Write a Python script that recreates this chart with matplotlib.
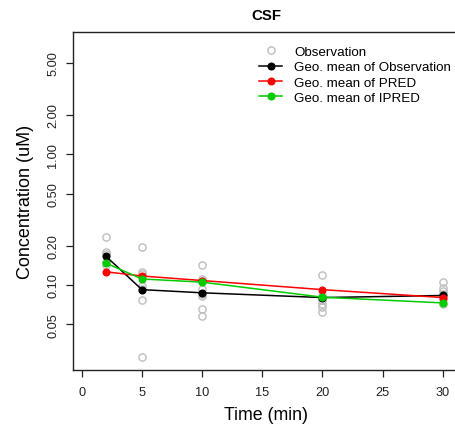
import matplotlib
matplotlib.use("Agg")
import matplotlib.pyplot as plt
from matplotlib.ticker import FixedLocator, NullLocator

plt.rcParams['font.family'] = ['Liberation Sans', 'DejaVu Sans']

# Observations (time in min, concentration in uM)
obs_t2 = [0.232, 0.178, 0.172, 0.150, 0.141]
obs_t5 = [0.196, 0.126, 0.121, 0.098, 0.093, 0.077, 0.028]
obs_t10 = [0.143, 0.111, 0.107, 0.093, 0.085, 0.082, 0.065, 0.058]
obs_t20 = [0.119, 0.084, 0.076, 0.071, 0.068, 0.062]
obs_t30 = [0.106, 0.095, 0.090, 0.085, 0.078, 0.072]
obs_by_time = {2: obs_t2, 5: obs_t5, 10: obs_t10, 20: obs_t20, 30: obs_t30}

times = [2, 5, 10, 20, 30]
geo_obs = [0.166, 0.092, 0.087, 0.0800, 0.0830]
geo_pred = [0.126, 0.117, 0.108, 0.092, 0.080]
geo_ipred = [0.147, 0.111, 0.105, 0.0805, 0.0728]

yticks = [0.05, 0.10, 0.20, 0.50, 1.00, 2.00, 5.00]
ytick_labels = ["0.05", "0.10", "0.20", "0.50", "1.00", "2.00", "5.00"]
xticks = [0, 5, 10, 15, 20, 25, 30]

W, H = 455, 435
fig = plt.figure(figsize=(W / 100, H / 100), dpi=100)
left, right, bottom, top = 73.3, 458.5, 371.0, 33.3
ax = fig.add_axes([left / W, (H - bottom) / H, (right - left) / W, (bottom - top) / H])

ox, oy = [], []
for t, vals in obs_by_time.items():
    ox.extend([t] * len(vals))
    oy.extend(vals)
ax.plot(ox, oy, linestyle='none', marker='o', markersize=5.2, markerfacecolor='none',
        markeredgecolor='#BEBEBE', markeredgewidth=1.0, label='Observation', zorder=2)
ax.plot(times, geo_obs, color='black', lw=1.1, marker='o', markersize=4.8,
        label='Geo. mean of Observation', zorder=3)
ax.plot(times, geo_pred, color='#FF0000', lw=1.1, marker='o', markersize=4.8,
        label='Geo. mean of PRED', zorder=4)
ax.plot(times, geo_ipred, color='#00CC00', lw=1.1, marker='o', markersize=4.8,
        label='Geo. mean of IPRED', zorder=5)

ax.set_yscale('log')
ax.set_ylim(0.0223, 8.6)
ax.set_xlim(-0.7, 31.3)
ax.yaxis.set_major_locator(FixedLocator(yticks))
ax.yaxis.set_minor_locator(NullLocator())
ax.set_yticklabels(ytick_labels, rotation=90, va='center')
ax.set_xticks(xticks)
ax.set_xticklabels([str(x) for x in xticks])

for s in ax.spines.values():
    s.set_linewidth(1.0)
    s.set_color('#222222')
ax.tick_params(axis='both', length=5, width=0.9, color='#222222', labelsize=9.2, labelcolor='#222222')
ax.tick_params(axis='x', pad=6.5)
ax.tick_params(axis='y', pad=5)

ax.set_title('CSF', fontsize=10.8, fontweight='bold', pad=9.8)
ax.set_xlabel('Time (min)', fontsize=12.8, labelpad=6)
ax.set_ylabel('Concentration (uM)', fontsize=13, labelpad=9.5)

leg = ax.legend(loc='upper left', bbox_to_anchor=((259 - left) / (right - left), (bottom - 46.5) / (bottom - top)),
                frameon=False, fontsize=9.6, handlelength=1.73, handletextpad=0.9,
                labelspacing=0.23, borderpad=0, borderaxespad=0)

fig.savefig('out.png', dpi=100)
